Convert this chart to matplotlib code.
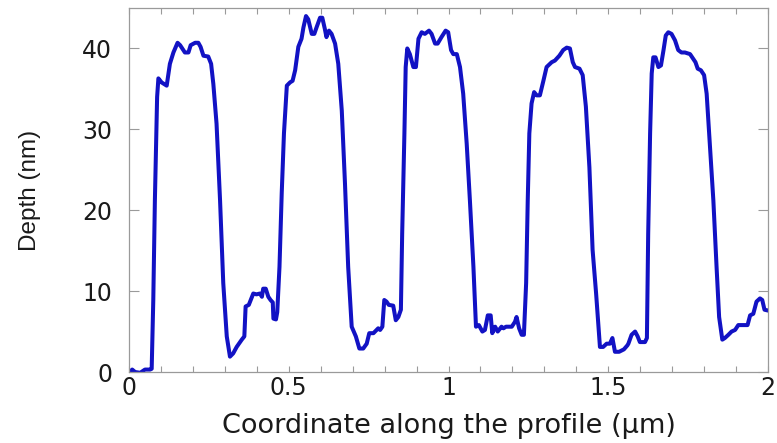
import matplotlib
matplotlib.use("Agg")
import matplotlib.pyplot as plt
from matplotlib import font_manager
from matplotlib.ticker import MultipleLocator

# ---- data ----
x_um = [0.003, 0.010, 0.019, 0.035, 0.050, 0.066, 0.071, 0.076, 0.081, 0.088, 0.092,
        0.102, 0.118, 0.128, 0.139, 0.152, 0.160, 0.175, 0.186, 0.193, 0.207, 0.217,
        0.224, 0.233, 0.248, 0.257, 0.264, 0.274, 0.285, 0.295, 0.306, 0.316, 0.326,
        0.337, 0.353, 0.361, 0.365, 0.375, 0.389, 0.399, 0.410, 0.416, 0.420, 0.428,
        0.436, 0.443, 0.450, 0.452, 0.460, 0.464, 0.471, 0.478, 0.485, 0.494, 0.504,
        0.512, 0.520, 0.530, 0.540, 0.546, 0.554, 0.561, 0.572, 0.580, 0.587, 0.598,
        0.605, 0.613, 0.618, 0.626, 0.634, 0.645, 0.655, 0.666, 0.676, 0.686, 0.697,
        0.710, 0.721, 0.733, 0.744, 0.752, 0.765, 0.780, 0.786, 0.793, 0.799, 0.806,
        0.813, 0.827, 0.835, 0.843, 0.851, 0.855, 0.862, 0.866, 0.871, 0.879, 0.890,
        0.898, 0.906, 0.916, 0.926, 0.939, 0.947, 0.958, 0.966, 0.978, 0.991, 0.999,
        1.008, 1.015, 1.026, 1.036, 1.046, 1.057, 1.067, 1.078, 1.086, 1.095, 1.106,
        1.114, 1.123, 1.132, 1.137, 1.146, 1.154, 1.166, 1.172, 1.180, 1.198, 1.208,
        1.213, 1.221, 1.229, 1.236, 1.243, 1.248, 1.253, 1.260, 1.268, 1.276, 1.286,
        1.297, 1.307, 1.323, 1.333, 1.347, 1.359, 1.370, 1.380, 1.389, 1.396, 1.410,
        1.420, 1.430, 1.441, 1.451, 1.462, 1.474, 1.484, 1.495, 1.505, 1.513, 1.521,
        1.534, 1.549, 1.560, 1.563, 1.573, 1.584, 1.592, 1.599, 1.615, 1.621, 1.625,
        1.631, 1.636, 1.641, 1.648, 1.657, 1.665, 1.673, 1.680, 1.688, 1.698, 1.709,
        1.719, 1.729, 1.740, 1.756, 1.766, 1.773, 1.780, 1.790, 1.800, 1.808, 1.818,
        1.829, 1.839, 1.847, 1.857, 1.865, 1.876, 1.886, 1.897, 1.907, 1.917, 1.936,
        1.944, 1.954, 1.964, 1.975, 1.982, 1.989, 2.000]
depth_nm = [0.0, 0.3, 0.0, -0.1, 0.3, 0.3, 0.4, 8.9, 21.2, 34.0, 36.3,
            35.8, 35.4, 38.1, 39.5, 40.7, 40.4, 39.5, 39.5, 40.4, 40.7, 40.7,
            40.2, 39.1, 39.0, 38.1, 35.6, 30.7, 21.2, 11.0, 4.4, 1.9, 2.3,
            3.1, 4.0, 4.4, 8.1, 8.3, 9.7, 9.6, 9.7, 9.3, 10.3, 10.3,
            9.3, 8.9, 8.6, 6.6, 6.5, 7.4, 13.0, 22.1, 29.5, 35.4, 35.8,
            36.0, 37.3, 40.2, 41.2, 42.6, 44.0, 43.6, 41.8, 41.8, 42.6, 43.8,
            43.8, 42.4, 41.4, 42.2, 41.8, 40.6, 38.1, 32.3, 23.3, 13.0, 5.6,
            4.4, 2.9, 2.9, 3.5, 4.8, 4.8, 5.4, 5.2, 5.6, 8.9, 8.7,
            8.3, 8.2, 6.4, 6.8, 7.7, 17.1, 29.5, 37.7, 40.0, 39.3, 37.7,
            37.7, 41.2, 42.0, 41.8, 42.2, 41.8, 40.6, 40.6, 41.4, 42.2, 42.0,
            39.8, 39.3, 39.3, 37.7, 34.4, 28.2, 21.2, 13.0, 5.6, 5.8, 5.0,
            5.2, 7.0, 7.0, 4.8, 5.6, 5.0, 5.6, 5.4, 5.6, 5.6, 6.2,
            6.8, 5.4, 4.6, 4.6, 11.0, 21.2, 29.5, 33.2, 34.6, 34.2, 34.2,
            36.0, 37.7, 38.3, 38.5, 39.1, 39.8, 40.1, 40.0, 38.3, 37.7, 37.5,
            36.7, 32.8, 25.3, 15.1, 9.7, 3.1, 3.1, 3.5, 3.5, 4.2, 2.5,
            2.5, 2.8, 3.3, 3.5, 4.6, 5.0, 4.4, 3.7, 3.7, 4.2, 17.1,
            29.5, 36.9, 38.9, 38.9, 37.7, 37.9, 39.8, 41.6, 42.0, 41.8, 41.0,
            39.8, 39.5, 39.5, 39.3, 38.7, 38.3, 37.5, 37.3, 36.7, 34.4, 28.2,
            21.2, 13.0, 6.8, 4.0, 4.2, 4.6, 5.0, 5.2, 5.8, 5.8, 5.8,
            7.0, 7.2, 8.7, 9.1, 8.9, 7.7, 7.6]

x_ticks = [0, 0.5, 1, 1.5, 2]
x_tick_labels = ["0", "0.5", "1", "1.5", "2"]
y_ticks = [0, 10, 20, 30, 40]
y_tick_labels = ["0", "10", "20", "30", "40"]

installed = {f.name for f in font_manager.fontManager.ttflist}
narrow = "Liberation Sans Narrow" if "Liberation Sans Narrow" in installed else "Liberation Sans"

fig = plt.figure(figsize=(7.77, 4.43), dpi=100)
ax = fig.add_axes([129 / 777, 1 - 372 / 443, (768 - 129) / 777, (372 - 8) / 443])

ax.plot(x_um, depth_nm, color="#1212c4", lw=2.9, solid_joinstyle="round")

ax.set_xlim(0, 2)
ax.set_ylim(0, 45)
ax.set_xticks(x_ticks)
ax.set_xticklabels(x_tick_labels)
ax.set_yticks(y_ticks)
ax.set_yticklabels(y_tick_labels)
ax.xaxis.set_minor_locator(MultipleLocator(0.1))

for s in ax.spines.values():
    s.set_color("#9a9a9a")
    s.set_linewidth(0.9)

ax.tick_params(axis="x", which="both", direction="in", top=True, bottom=True,
               length=4, width=0.8, color="#9a9a9a", labelsize=17, pad=3,
               labelcolor="#1a1a1a")
ax.tick_params(axis="y", which="major", direction="in", left=True, right=True,
               length=7, width=0.8, color="#9a9a9a", labelsize=17, pad=12,
               labelcolor="#1a1a1a")

ax.set_xlabel("Coordinate along the profile (μm)", fontsize=19.5, color="#1a1a1a",
              labelpad=9)
ax.set_ylabel("Depth (nm)", fontsize=17.5, family=narrow, color="#1a1a1a",
              labelpad=30)

fig.savefig("out.png", dpi=100)
